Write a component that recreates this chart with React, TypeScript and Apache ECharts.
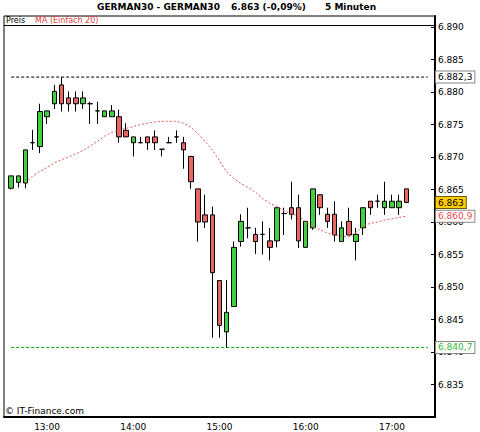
import { useEffect, useRef } from 'react';
import * as echarts from 'echarts';

const FONT = 'DejaVu Sans';

// 5-minute candles, GERMAN30
const times = [
  '12:35', '12:40', '12:45', '12:50', '12:55', '13:00', '13:05', '13:10', '13:15', '13:20',
  '13:25', '13:30', '13:35', '13:40', '13:45', '13:50', '13:55', '14:00', '14:05', '14:10',
  '14:15', '14:20', '14:25', '14:30', '14:35', '14:40', '14:45', '14:50', '14:55', '15:00',
  '15:05', '15:10', '15:15', '15:20', '15:25', '15:30', '15:35', '15:40', '15:45', '15:50',
  '15:55', '16:00', '16:05', '16:10', '16:15', '16:20', '16:25', '16:30', '16:35', '16:40',
  '16:45', '16:50', '16:55', '17:00', '17:05', '17:10',
];
const padBefore = ['12:30'];
const padAfter = ['17:15', '17:20', '17:25', '17:30'];

const opens = [
  6865.2, 6866.1, 6866.0, 6872.2, 6871.6, 6876.2, 6878.2, 6881.1, 6879.1, 6879.1,
  6878.2, 6878.2, 6877.1, 6876.2, 6876.2, 6876.2, 6874.1, 6872.2, 6872.2, 6873.1,
  6873.1, 6871.2, 6872.2, 6873.1, 6872.2, 6870.1, 6865.1, 6861.1, 6861.1, 6851.0,
  6843.1, 6847.0, 6857.0, 6859.1, 6858.1, 6858.1, 6857.1, 6857.1, 6861.3, 6862.2,
  6862.2, 6856.1, 6859.1, 6864.2, 6861.2, 6861.2, 6857.0, 6860.1, 6857.0, 6859.1,
  6863.2, 6863.2, 6862.2, 6862.2, 6862.2, 6865.1,
];
const closes = [
  6867.1, 6867.1, 6871.1, 6872.2, 6877.0, 6877.1, 6880.1, 6878.2, 6878.2, 6878.2,
  6879.1, 6878.2, 6877.1, 6877.1, 6877.1, 6873.1, 6873.1, 6873.1, 6872.2, 6872.2,
  6872.2, 6871.2, 6872.2, 6873.1, 6871.1, 6866.2, 6860.0, 6860.0, 6852.2, 6844.1,
  6846.1, 6856.1, 6860.1, 6859.1, 6857.0, 6858.1, 6856.1, 6862.2, 6861.3, 6861.2,
  6857.1, 6860.1, 6865.1, 6862.2, 6860.1, 6858.0, 6859.1, 6858.0, 6858.1, 6862.2,
  6862.2, 6863.2, 6863.2, 6863.2, 6863.2, 6863.0,
];
const lows = [
  6865.0, 6865.3, 6865.2, 6871.1, 6870.6, 6875.1, 6877.4, 6877.0, 6877.0, 6877.0,
  6877.4, 6875.1, 6875.1, 6876.2, 6876.2, 6872.2, 6873.1, 6870.1, 6872.2, 6871.1,
  6871.1, 6870.1, 6872.2, 6872.2, 6868.2, 6865.1, 6857.0, 6859.1, 6842.2, 6842.2,
  6840.7, 6847.0, 6856.2, 6857.5, 6855.1, 6855.0, 6854.1, 6856.1, 6858.0, 6860.4,
  6856.0, 6856.1, 6858.8, 6861.1, 6859.1, 6857.0, 6857.0, 6858.0, 6854.1, 6858.0,
  6861.1, 6862.2, 6861.1, 6862.2, 6861.1, 6863.0,
];
const highs = [
  6867.1, 6867.1, 6871.1, 6874.2, 6878.2, 6877.1, 6881.1, 6882.3, 6880.1, 6880.1,
  6880.1, 6878.5, 6878.5, 6877.1, 6878.0, 6877.3, 6875.2, 6873.1, 6873.1, 6873.1,
  6874.1, 6871.2, 6873.1, 6874.1, 6873.1, 6870.1, 6865.1, 6864.2, 6862.4, 6851.0,
  6851.1, 6857.0, 6861.2, 6862.2, 6859.1, 6860.1, 6859.1, 6862.2, 6862.2, 6866.2,
  6864.2, 6860.1, 6865.1, 6864.2, 6862.2, 6863.2, 6860.1, 6862.2, 6859.1, 6862.2,
  6863.2, 6864.2, 6866.2, 6864.2, 6864.2, 6865.1,
];
// MA (Einfach 20)
const maValues: (number | string)[] = [
  '-', '-', 6866.0, 6867.1, 6867.8, 6868.4, 6869.1, 6869.6, 6870.0, 6870.5,
  6871.0, 6871.7, 6872.4, 6873.2, 6873.8, 6874.2, 6874.4, 6874.7, 6875.0, 6875.2,
  6875.4, 6875.5, 6875.5, 6875.5, 6875.2, 6874.6, 6873.6, 6872.4, 6871.1, 6869.4,
  6867.7, 6866.7, 6865.9, 6865.3, 6864.6, 6863.6, 6862.9, 6862.4, 6861.7, 6861.3,
  6860.9, 6860.0, 6859.3, 6858.8, 6858.3, 6858.0, 6857.8, 6857.7, 6858.4, 6859.4,
  6859.8, 6860.0, 6860.3, 6860.5, 6860.7, 6860.9,
];

const sessionHigh = 6882.3;
const sessionLow = 6840.7;
const lastPrice = 6863;
const lastMA = 6860.9;
const yMin = 6830;
const yMax = 6891.7;
const yStep = 5;

const titleMain = 'GERMAN30 - GERMAN30';
const titlePrice = '6.863 (-0,09%)';
const titlePeriod = '5 Minuten';
const legendPrice = 'Preis';
const legendMA = 'MA (Einfach 20)';
const footer = '© IT-Finance.com';

function de(v: number, d: number): string {
  const s = v.toFixed(d);
  const [ip, dp] = s.split('.');
  const withSep = ip.replace(/\B(?=(\d{3})+(?!\d))/g, '.');
  return dp ? withSep + ',' + dp : withSep;
}

export default function App() {
  const ref = useRef<HTMLDivElement>(null);
  useEffect(() => {
    if (!ref.current) return;
    const chart = echarts.init(ref.current, undefined, { renderer: 'svg' });
    const categories = [...padBefore, ...times, ...padAfter];
    const candleData: any[] = ['-', ...times.map((_, i) => [opens[i], closes[i], lows[i], highs[i]])];
    const maData: any[] = ['-', ...maValues];
    const firstIdx = 1;
    const lineEndIdx = categories.length - 2;
    const lastIdx = categories.length - 1;

    const boxLabel = (text: string, color: string, bg: string, border: string) => ({
      show: true,
      position: 'end',
      formatter: text,
      color,
      backgroundColor: bg,
      borderColor: border,
      borderWidth: 1,
      padding: [1, 2, 1, 2],
      fontSize: 9,
      lineHeight: 9,
      fontFamily: FONT,
      distance: 1,
    });
    const hiddenLine = { color: 'rgba(0,0,0,0)', width: 1, type: 'solid' };
    const labelOnly = (value: number, label: any) => [
      { coord: [lineEndIdx, value], lineStyle: hiddenLine, label },
      { coord: [lastIdx, value], lineStyle: hiddenLine },
    ];
    const levelSeries = (value: number, color: string) => ({
      type: 'line',
      data: [[firstIdx, value], [lineEndIdx, value]],
      symbol: 'none',
      silent: true,
      lineStyle: { color, width: 1, type: [3, 2] },
      z: 1,
    });

    const option: any = {
      animation: false,
      backgroundColor: '#ffffff',
      textStyle: { fontFamily: FONT },
      grid: {
        left: 4, right: 45, top: 16, bottom: 15,
        show: true, borderColor: '#000', borderWidth: 1, backgroundColor: 'transparent',
      },
      xAxis: {
        type: 'category',
        data: categories,
        boundaryGap: false,
        axisLine: { show: true, lineStyle: { color: '#000', width: 2 } },
        axisTick: { show: false },
        axisLabel: {
          interval: (_i: number, v: string) => v.endsWith(':00'),
          color: '#000', fontSize: 9, fontFamily: FONT, margin: 5,
        },
        splitLine: { show: false },
      },
      yAxis: {
        type: 'value',
        position: 'right',
        min: yMin,
        max: yMax,
        interval: yStep,
        axisLine: { show: true, lineStyle: { color: '#000', width: 2 } },
        axisTick: { show: true, inside: true, length: 4, lineStyle: { color: '#000' } },
        axisLabel: {
          showMinLabel: false, showMaxLabel: false,
          formatter: (v: number) => de(v, 0),
          color: '#000', fontSize: 9, fontFamily: FONT, margin: 3,
        },
        splitLine: { show: false },
      },
      series: [
        levelSeries(sessionHigh, '#000000'),
        levelSeries(sessionLow, '#00aa00'),
        {
          type: 'candlestick',
          data: candleData,
          barWidth: 5,
          itemStyle: {
            color: '#40d040', color0: '#ea6462',
            borderColor: '#000', borderColor0: '#000', borderColorDoji: '#000',
            borderWidth: 1,
          },
          markLine: {
            silent: true,
            symbol: ['none', 'none'],
            data: [
              labelOnly(sessionHigh, boxLabel(de(sessionHigh, 1), '#000', '#fff', '#888')),
              labelOnly(sessionLow, boxLabel(de(sessionLow, 1), '#33bb33', '#fff', '#888')),
              labelOnly(lastPrice, boxLabel(de(lastPrice, 0), '#000', '#ffcc00', '#6b5a00')),
            ],
          },
          z: 3,
        },
        {
          type: 'line',
          data: maData,
          symbol: 'none',
          lineStyle: { color: '#e55a5a', width: 1, type: [2, 2] },
          markLine: {
            silent: true,
            symbol: ['none', 'none'],
            data: [
              labelOnly(lastMA, boxLabel(de(lastMA, 1), '#e84c4c', '#fff', '#888')),
            ],
          },
          z: 4,
        },
      ],
      graphic: [
        { type: 'text', x: 97, y: 6.5, style: { text: titleMain, fill: '#000', font: `bold 9px "${FONT}"`, textVerticalAlign: 'middle', verticalAlign: 'middle' } },
        { type: 'text', x: 231, y: 6.5, style: { text: titlePrice, fill: '#000', font: `bold 9px "${FONT}"`, textVerticalAlign: 'middle', verticalAlign: 'middle' } },
        { type: 'text', x: 325, y: 6.5, style: { text: titlePeriod, fill: '#000', font: `bold 9px "${FONT}"`, textVerticalAlign: 'middle', verticalAlign: 'middle' } },
        { type: 'line', shape: { x1: 4, y1: 25.5, x2: 435, y2: 25.5 }, style: { stroke: '#000', lineWidth: 1 } },
        { type: 'text', x: 6, y: 20.5, style: { text: legendPrice, fill: '#000', font: `8px "${FONT}"`, textVerticalAlign: 'middle', verticalAlign: 'middle' } },
        { type: 'text', x: 35, y: 20.5, style: { text: legendMA, fill: '#e04040', font: `8px "${FONT}"`, textVerticalAlign: 'middle', verticalAlign: 'middle' } },
        { type: 'text', x: 5, y: 411, style: { text: footer, fill: '#000', font: `9px "${FONT}"`, textVerticalAlign: 'middle', verticalAlign: 'middle' } },
      ],
    };
    chart.setOption(option);
    return () => chart.dispose();
  }, []);
  return (
    <div
      ref={ref}
      style={{ position: 'fixed', left: 0, top: 0, width: 480, height: 432, background: '#fff' }}
    />
  );
}
